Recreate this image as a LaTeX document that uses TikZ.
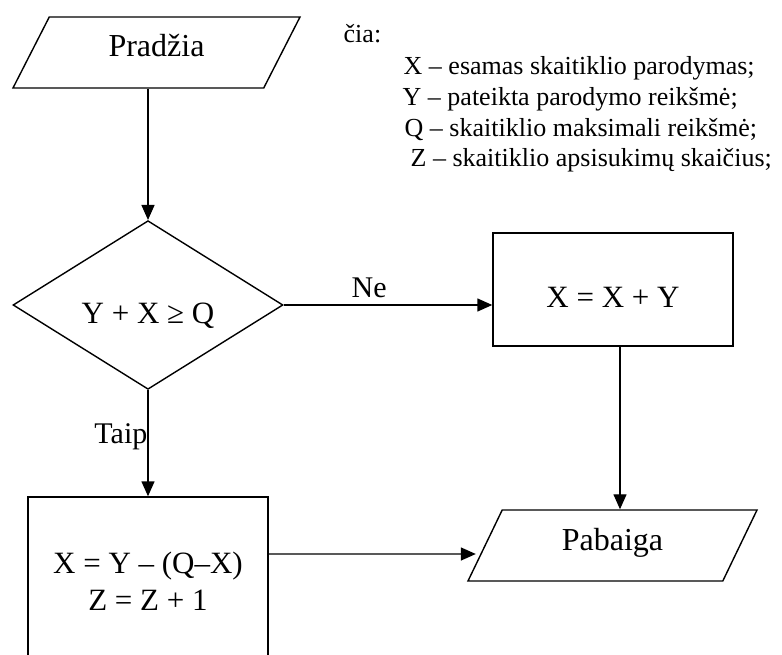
\documentclass[tikz,border=0pt]{standalone}
\usepackage{fontspec}
\setmainfont{Liberation Serif}
\usetikzlibrary{shapes.geometric,arrows.meta}
\begin{document}
\begin{tikzpicture}[x=1pt,y=1pt,
  line width=1.4pt,
  every node/.style={font=\fontsize{31}{37}\selectfont},
  para/.style={draw, trapezium, trapezium left angle=45, trapezium right angle=135,
    trapezium stretches body, minimum width=#1, minimum height=71pt, inner sep=0pt},
  dec/.style={draw, diamond, minimum width=270pt, minimum height=144pt, inner sep=0pt},
  proc/.style={draw, rectangle, minimum width=240pt, inner sep=0pt, align=center},
  legend/.style={anchor=base west, inner sep=0pt, font=\fontsize{26}{30}\selectfont},
  lbl/.style={font=\fontsize{30}{36}\selectfont},
  arr/.style={-{Triangle[length=15pt,width=13pt]}}
]
\useasboundingbox (0,0) rectangle (782,-655);
\clip (0,0) rectangle (782,-655);

\node[para=287pt, font=\fontsize{32}{38}\selectfont, text depth=14pt] (start) at (156.5,-52.5) {Pradžia};
\node[dec, text height=36pt, text depth=0pt] (cond) at (148,-305) {Y + X ≥ Q};
\node[proc, minimum height=113pt, text height=36pt, text depth=0pt] (r1) at (613,-289.5) {X = X + Y};
\node[proc, minimum height=168pt] (r2) at (148,-581) {X = Y – (Q–X)\\ Z = Z + 1};
\node[para=289pt, font=\fontsize{32}{38}\selectfont, text depth=12pt] (end) at (612.5,-545.5) {Pabaiga};

\node[legend] (l0) at (343,-43) {čia:};
\node[legend] (l1) at (403,-75) {X – esamas skaitiklio parodymas;};
\node[legend] (l2) at (402,-106) {Y – pateikta parodymo reikšmė;};
\node[legend] (l3) at (404,-137) {Q – skaitiklio maksimali reikšmė;};
\node[legend] (l4) at (410,-167) {Z – skaitiklio apsisukimų skaičius;};

\draw[arr] (start.south -| cond.north) -- (cond.north);
\draw[arr] (cond.east) -- node[lbl, above, pos=0.41, inner sep=7pt] {Ne} (cond.east -| r1.west);
\draw[arr] (cond.south) -- node[lbl, left, pos=0.44, inner sep=0pt] {Taip} (r2.north);
\draw[arr] ([xshift=7pt]r1.south) -- ([xshift=7pt]r1.south |- end.north);
\draw[arr] ([yshift=27pt]r2.east) -- ([xshift=-8.5pt,yshift=-8.5pt]end.west);
\end{tikzpicture}
\end{document}
